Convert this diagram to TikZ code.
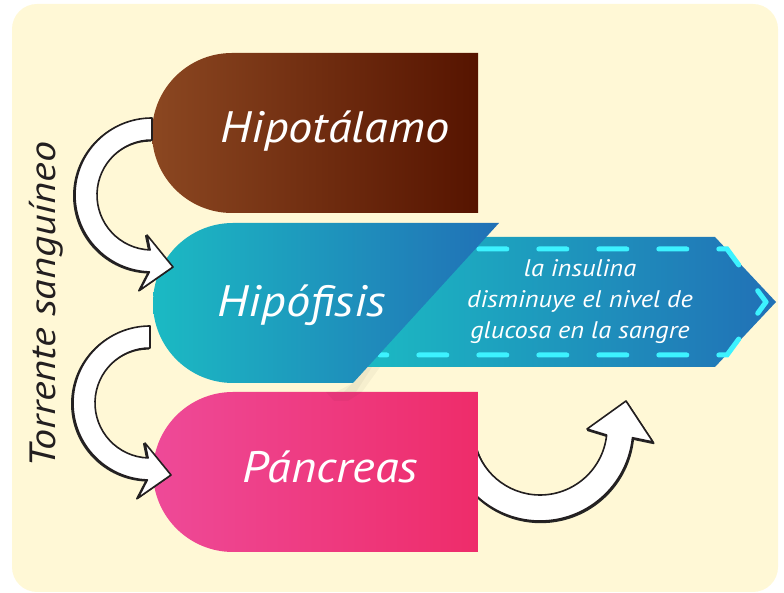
\documentclass[tikz,border=0pt]{standalone}
\usepackage{fontspec}
\setmainfont{PT Sans}
\newfontfamily\labelfont[FakeStretch=1.1]{PT Sans}
\newfontfamily\boxfont[FakeStretch=1.1]{PT Sans}
\newfontfamily\sidefont[FakeStretch=1.15]{PT Sans}
\usetikzlibrary{calc}

\definecolor{cream}{HTML}{FFF8D6}
\definecolor{brownL}{HTML}{8B4721}
\definecolor{brownR}{HTML}{561400}
\definecolor{tealL}{HTML}{1BBAC3}
\definecolor{blueR}{HTML}{2170B6}
\definecolor{pinkL}{HTML}{EE4A98}
\definecolor{pinkR}{HTML}{EE2C6A}
\definecolor{dashcyan}{HTML}{3DF2FF}
\definecolor{inkgray}{HTML}{231F20}

\tikzset{
  bigLabel/.style={text=white, inner sep=0pt, anchor=base,
    font={\labelfont\fontsize{44}{50}\selectfont\itshape}},
  boxText/.style={text=white, inner sep=0pt, align=center,
    font={\boxfont\fontsize{24}{31}\selectfont\itshape}},
  sideText/.style={text=inkgray, inner sep=0pt, anchor=base, rotate=90,
    font={\sidefont\fontsize{36.5}{40}\selectfont\itshape}},
  dashline/.style={draw=dashcyan, line width=5pt, line cap=round,
    dash pattern=on 28pt off 32pt, dash phase=14pt},
  arrowShadow/.style={fill=black!85, draw=black!85, line width=1.6pt, line join=round},
  blockArrow/.style={fill=white, draw=inkgray, line width=1.6pt, line join=round},
  softShade/.style={fill=black, opacity=0.035},
}

\begin{document}
\begin{tikzpicture}[x=1pt,y=1pt]
\useasboundingbox (0,0) rectangle (784,593);

% panel
\fill[cream, rounded corners=25pt] (12,1) rectangle (778,589);

% message arrow behind the pituitary block
\shade[left color=tealL, right color=blueR]
  (360,356) -- (715,356) -- (776,291) -- (715,226) -- (360,226) -- cycle;
\draw[dashline] (766,291) -- (727,344) -- (380,344);
\draw[dashline] (766,291) -- (727,238) -- (380,238);
\node[boxText] (msg) at (580,291.5)
  {la insulina\\disminuye el nivel de\\glucosa en la sangre};

% soft shadow under the slanted tip
\fill[softShade] (336,201) -- (353,210) -- (368,226) -- (380,226) -- (362,201) -- cycle;
\fill[softShade] (344,201) -- (353,210) -- (365,226) -- (372,226) -- (356,201) -- cycle;

% Hipofisis block with slanted right end
\shade[left color=tealL, right color=blueR]
  (499,370) -- (233,370) arc[start angle=90, end angle=270, radius=80pt]
  -- (353,210) -- cycle;

% arrow leaving the pancreas (tail tucked under the block)
\coordinate (c3) at (540,165);
\begin{scope}[shift={(c3)}]
  \path[arrowShadow, shift={(0.8,-1.4)}]
    (185:93pt) arc[start angle=185, end angle=354, radius=93pt]
    -- (113,-14) -- (86,27) -- (47,-1)
    -- (354:67pt) arc[start angle=354, end angle=185, radius=67pt] -- cycle;
  \path[blockArrow]
    (185:93pt) arc[start angle=185, end angle=354, radius=93pt]
    -- (113,-14) -- (86,27) -- (47,-1)
    -- (354:67pt) arc[start angle=354, end angle=185, radius=67pt] -- cycle;
\end{scope}

% Hipotalamo block
\shade[left color=brownL, right color=brownR]
  (478,540) -- (232,540) arc[start angle=90, end angle=270, radius=80pt]
  -- (478,380) -- cycle;

% Pancreas block
\shade[left color=pinkL, right color=pinkR]
  (478,201) -- (233,201) arc[start angle=90, end angle=270, radius=80pt]
  -- (478,41) -- cycle;
\fill[softShade] (326,201) -- (362,201) -- (348,192) -- (334,192) -- cycle;

% block labels
\node[bigLabel] (hipotalamo) at (335,450) {Hipotálamo};
\node[bigLabel] (hipofisis) at (302,276) {Hipófisis};
\node[bigLabel] (pancreas) at (330,110) {Páncreas};

% side caption
\node[sideText] (torrente) at (55,288) {Torrente sanguíneo};

% bent arrows along the bloodstream
\coordinate (c1) at (152,398);
\coordinate (c2) at (150,190);
\foreach \c in {c1,c2}{
  \begin{scope}[shift={(\c)}]
    \path[arrowShadow, shift={(-1.2,-0.8)}]
      (90:77pt) arc[start angle=90, end angle=268, radius=77pt]
      -- (-12,-95) -- (21,-72) -- (-5,-40)
      -- (268:55pt) arc[start angle=268, end angle=90, radius=55pt] -- cycle;
    \path[blockArrow]
      (90:77pt) arc[start angle=90, end angle=268, radius=77pt]
      -- (-12,-95) -- (21,-72) -- (-5,-40)
      -- (268:55pt) arc[start angle=268, end angle=90, radius=55pt] -- cycle;
  \end{scope}
}
\end{tikzpicture}
\end{document}
